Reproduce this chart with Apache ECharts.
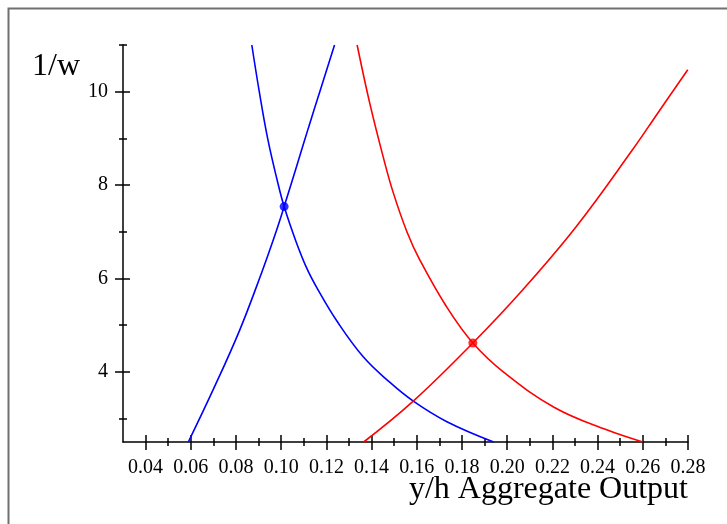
<!DOCTYPE html>
<html>
<head>
<meta charset="utf-8">
<script src="https://cdn.jsdelivr.net/npm/echarts@6/dist/echarts.min.js"></script>
<style>
html,body{margin:0;padding:0;background:#fff;}
#chart{width:727px;height:524px;}
</style>
</head>
<body>
<div id="chart"></div>
<script>
// ---- data ----
const xMajorTicks = [0.04,0.06,0.08,0.10,0.12,0.14,0.16,0.18,0.20,0.22,0.24,0.26,0.28];
const xMinorTicks = [0.05,0.07,0.09,0.11,0.13,0.15,0.17,0.19,0.21,0.23,0.25,0.27];
const yMajorTicks = [4,6,8,10];
const yMinorTicks = [3,5,7,9,11];

const blueDecX = [0.0870,0.0903,0.0940,0.0982,0.1013,0.1065,0.1115,0.1165,0.1245,0.1362,0.1480,0.1583,0.1731,0.1940];
const blueDecY = [11.0,10.0,9.0,8.11,7.54,6.80,6.20,5.74,5.10,4.33,3.78,3.38,2.94,2.50];

const blueIncX = [0.0589,0.0699,0.0815,0.0913,0.0975,0.1013,0.1068,0.1120,0.1176,0.1236];
const blueIncY = [2.50,3.62,4.88,6.12,6.97,7.54,8.40,9.22,10.08,11.0];

const redDecX = [0.1336,0.1392,0.1451,0.1495,0.1558,0.1613,0.1731,0.1848,0.1988,0.2209,0.2440,0.2600];
const redDecY = [11.0,9.75,8.61,7.85,6.98,6.40,5.40,4.62,3.98,3.24,2.76,2.50];

const redIncX = [0.1365,0.1583,0.1848,0.2069,0.2305,0.2552,0.2666,0.2799];
const redIncY = [2.50,3.37,4.62,5.76,7.11,8.74,9.54,10.47];

const eqX = [0.1013,0.1848];
const eqY = [7.54,4.62];

const xTitle = 'y/h Aggregate Output';
const yTitle = '1/w';

// ---- build ----
const zip = (xs, ys) => xs.map((x, i) => [x, ys[i]]);
const FONT = 'Liberation Serif';
const X_MIN = 0.03, X_MAX = 0.28, Y_MIN = 2.5, Y_MAX = 11;

function xAx(ticks, inside, len, labels, line) {
  return {
    type: 'value', position: 'bottom', min: X_MIN, max: X_MAX,
    splitLine: {show: false},
    axisLine: {show: line, onZero: false, lineStyle: {color: '#000', width: 1.5}},
    axisTick: {show: true, inside: inside, length: len, customValues: ticks, lineStyle: {color: '#000', width: 1.5}},
    axisLabel: labels ? {show: true, customValues: ticks, margin: 16, color: '#000',
      fontFamily: FONT, fontSize: 20, formatter: v => v.toFixed(2)} : {show: false}
  };
}
function yAx(ticks, inside, len, labels, line) {
  return {
    type: 'value', position: 'left', min: Y_MIN, max: Y_MAX,
    splitLine: {show: false},
    axisLine: {show: line, onZero: false, lineStyle: {color: '#000', width: 1.5}},
    axisTick: {show: true, inside: inside, length: len, customValues: ticks, lineStyle: {color: '#000', width: 1.5}},
    axisLabel: labels ? {show: true, customValues: ticks, margin: 15, color: '#000',
      fontFamily: FONT, fontSize: 20, formatter: v => String(v)} : {show: false}
  };
}

const lineSeries = (xs, ys, color) => ({
  type: 'line', data: zip(xs, ys), showSymbol: false, smooth: 0.4,
  lineStyle: {color: color, width: 1.6}, itemStyle: {color: color}, silent: true, z: 3
});

const chart = echarts.init(document.getElementById('chart'), null, {renderer: 'canvas'});
chart.setOption({
  animation: false,
  backgroundColor: '#fff',
  grid: {left: 123, right: 39, top: 45, bottom: 82, containLabel: false},
  xAxis: [
    xAx(xMajorTicks, false, 8, true, true),
    xAx(xMajorTicks, true, 7, false, false),
    xAx(xMinorTicks, false, 4, false, false),
    xAx(xMinorTicks, true, 4, false, false)
  ],
  yAxis: [
    yAx(yMajorTicks, false, 8, true, true),
    yAx(yMajorTicks, true, 7, false, false),
    yAx(yMinorTicks, false, 4, false, false),
    yAx(yMinorTicks, true, 4, false, false)
  ],
  series: [
    lineSeries(blueDecX, blueDecY, '#0000ff'),
    lineSeries(blueIncX, blueIncY, '#0000ff'),
    lineSeries(redDecX, redDecY, '#ff0000'),
    lineSeries(redIncX, redIncY, '#ff0000'),
    {
      type: 'scatter', data: zip(eqX, eqY), symbolSize: 9, z: 5,
      itemStyle: {color: p => p.dataIndex === 0 ? '#0000ff' : '#ff0000'}
    }
  ],
  graphic: [
    {type: 'rect', left: 6, top: 6, shape: {width: 800, height: 600},
      style: {fill: 'none', stroke: '#707070', lineWidth: 2}, silent: true},
    {type: 'text', right: 39, top: 474,
      style: {text: xTitle, font: '32px "Liberation Serif"', fill: '#000'}},
    {type: 'text', left: 32, top: 51,
      style: {text: yTitle, font: '32px "Liberation Serif"', fill: '#000'}}
  ]
});
</script>
</body>
</html>
